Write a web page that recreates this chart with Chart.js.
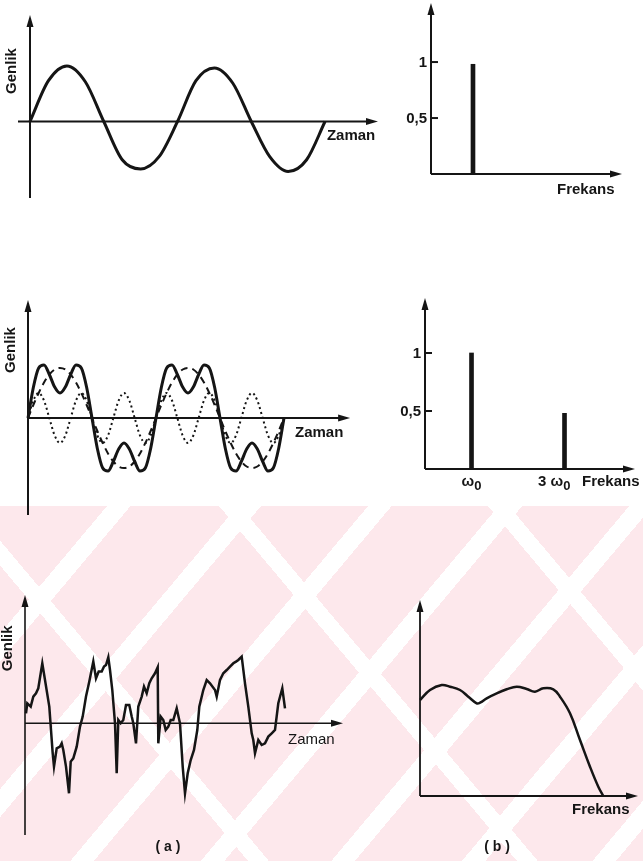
<!DOCTYPE html>
<html lang="tr">
<head>
<meta charset="utf-8">
<title>Genlik - Frekans</title>
<script src="https://cdn.jsdelivr.net/npm/chart.js@4.4.1/dist/chart.umd.min.js"></script>
<style>
  html, body { margin: 0; padding: 0; background: #fff; }
  #page { position: relative; width: 643px; height: 861px; overflow: hidden; background: #fff; }
  #mark {
    position: absolute; left: 0; top: 506px; width: 643px; height: 355px;
    background-color: #fde8ec;
    background-image:
      repeating-linear-gradient(130deg, rgba(255,255,255,0) 0 82px, #fff 82px 100px),
      repeating-linear-gradient(50deg, rgba(255,255,255,0) 0 190px, #fff 190px 206px);
  }
  canvas { position: absolute; }
</style>
</head>
<body>
<div id="page">
  <div id="mark"></div>
  <canvas id="c1" width="380" height="210" style="left:0;top:0"></canvas>
  <canvas id="c2" width="263" height="210" style="left:380px;top:0"></canvas>
  <canvas id="c3" width="380" height="240" style="left:0;top:280px"></canvas>
  <canvas id="c4" width="263" height="225" style="left:380px;top:280px"></canvas>
  <canvas id="c5" width="380" height="281" style="left:0;top:580px"></canvas>
  <canvas id="c6" width="263" height="281" style="left:380px;top:580px"></canvas>
</div>
<script>
// --- data ---
// (1) pure tone, time in 1/8 periods
const sineT = [0, 1, 2, 3, 4, 5, 6, 7, 8, 9, 10, 11, 12, 13, 14, 15, 16];
const sineV = [0, 0.8, 1.09, 0.78, 0, -0.75, -0.93, -0.69, 0, 0.8, 1.05, 0.75, 0, -0.69, -0.98, -0.75, 0];
const pureFreq = [1];
const pureAmp = [0.98];

// (2) fundamental + third harmonic, time in 1/24 periods
const mixT = [0, 1, 2, 3, 4, 5, 6, 7, 8, 9, 10, 11, 12, 13, 14, 15, 16, 17, 18, 19, 20, 21, 22, 23, 24,
  25, 26, 27, 28, 29, 30, 31, 32, 33, 34, 35, 36, 37, 38, 39, 40, 41, 42, 43, 44, 45, 46, 47, 48];
const mixFund = [0, 0.26, 0.5, 0.71, 0.87, 0.97, 1, 0.97, 0.87, 0.71, 0.5, 0.26, 0, -0.26, -0.5, -0.71, -0.87, -0.97, -1, -0.97, -0.87, -0.71, -0.5, -0.26, 0,
  0.26, 0.5, 0.71, 0.87, 0.97, 1, 0.97, 0.87, 0.71, 0.5, 0.26, 0, -0.26, -0.5, -0.71, -0.87, -0.97, -1, -0.97, -0.87, -0.71, -0.5, -0.26, 0];
const mixThird = [0, 0.35, 0.5, 0.35, 0, -0.35, -0.5, -0.35, 0, 0.35, 0.5, 0.35, 0, -0.35, -0.5, -0.35, 0, 0.35, 0.5, 0.35, 0, -0.35, -0.5, -0.35, 0,
  0.35, 0.5, 0.35, 0, -0.35, -0.5, -0.35, 0, 0.35, 0.5, 0.35, 0, -0.35, -0.5, -0.35, 0, 0.35, 0.5, 0.35, 0, -0.35, -0.5, -0.35, 0];
const mixSum = [0, 0.61, 1, 1.06, 0.87, 0.62, 0.5, 0.62, 0.87, 1.06, 1, 0.61, 0, -0.61, -1, -1.06, -0.87, -0.62, -0.5, -0.62, -0.87, -1.06, -1, -0.61, 0,
  0.61, 1, 1.06, 0.87, 0.62, 0.5, 0.62, 0.87, 1.06, 1, 0.61, 0, -0.61, -1, -1.06, -0.87, -0.62, -0.5, -0.62, -0.87, -1.06, -1, -0.61, 0];
const harmFreq = [1, 3];
const harmAmp = [1, 0.48];
const harmLabels = ['ω', '3 ω'];

// (3) random signal and its spectrum
const noiseT = [1, 2.3, 5.7, 8.3, 11, 13.3, 17.3, 20, 24.3, 27.7, 29, 31.7, 35, 36.7, 38.3, 41, 44, 45.7, 48.3, 51.7,
  55, 57.7, 61, 64.3, 68.3, 71, 73.7, 76.7, 79, 81, 83.3, 85, 87.3, 90, 91.7, 93.3, 95.7, 98.3, 101, 104.3,
  106.7, 108.3, 111, 113.3, 116.7, 119, 121.7, 124.3, 126.7, 130, 132.7, 133.3, 135.7, 138.3, 140.7, 143.3, 145.7, 148.3, 151.7, 155,
  157.7, 160, 162.7, 165.7, 169, 172.3, 174.3, 178.3, 181.7, 185, 190, 191.7, 195, 198.3, 201.7, 205, 208.3, 211, 213.3, 216.7,
  220, 223.3, 226.7, 228.3, 230, 233.3, 236.7, 240, 243.3, 246.7, 250, 253.3, 257.3, 260];
const noiseA = [10, 20, 16.7, 26.7, 30, 35, 60, 43.3, 16.7, -30, -43.3, -25, -23.3, -20, -26.7, -43.3, -70, -38.3, -35, -23.3,
  -3.3, 6.7, 26.7, 41.7, 61.7, 45, 51.7, 51.7, 56.7, 58.3, 66, 53.3, 33.3, 0, -50, 3.3, 0, 3.3, 18.3, 18.3,
  6.7, 0, -20, 16.7, 26.7, 36.7, 30, 40, 45, 50, 56, -20, 6.7, 3.3, -6.7, -3.3, 3.3, 3.3, 15, 0,
  -43.3, -70, -50, -36.7, -26.7, -6.7, 16.7, 33.3, 43.3, 40, 33.3, 26.7, 43.3, 50, 53.3, 56.7, 60, 61.7, 63.3, 66.7,
  40, 16.7, -10, -16.7, -30, -16.7, -21.7, -20, -13.3, -10, -6.7, 20, 35, 15];
const specF = [0, 10, 21.7, 30, 40, 48.3, 56.7, 60, 66.7, 76.7, 86.7, 96.7, 106.7, 115, 123.3, 133.3, 140, 150, 160, 170, 178.3, 183.3];
const specM = [96, 106, 111, 109.3, 106, 99.3, 92.7, 93.3, 97.7, 102.7, 106.7, 109.3, 107, 104.3, 107.7, 106.7, 99.3, 82.7, 56, 29.3, 9.3, 0];

const yTicks = [1, 0.5];
const yTickLabels = ['1', '0,5'];

const INK = '#151515';
const FONT = "'Liberation Sans', Arial, sans-serif";

function pts(xs, ys) {
  return xs.map((x, i) => ({ x: x, y: ys[i] }));
}

// axes with arrow heads, tick marks and the hand-set captions
const sketch = {
  id: 'sketch',
  beforeDatasetsDraw(chart, args, o) {
    const ctx = chart.ctx, sx = chart.scales.x, sy = chart.scales.y;
    const ox = sx.getPixelForValue(0), oy = sy.getPixelForValue(0);
    ctx.save();
    ctx.strokeStyle = INK;
    ctx.fillStyle = INK;
    ctx.lineWidth = o.axisWidth || 2;
    if (o.xAxis) {
      const a = sx.getPixelForValue(o.xAxis[0]), b = sx.getPixelForValue(o.xAxis[1]);
      ctx.beginPath(); ctx.moveTo(a, oy); ctx.lineTo(b - 8, oy); ctx.stroke();
      ctx.beginPath(); ctx.moveTo(b, oy); ctx.lineTo(b - 12, oy - 3.5); ctx.lineTo(b - 12, oy + 3.5); ctx.closePath(); ctx.fill();
    }
    if (o.yAxis) {
      const a = sy.getPixelForValue(o.yAxis[0]), b = sy.getPixelForValue(o.yAxis[1]);
      ctx.beginPath(); ctx.moveTo(ox, a); ctx.lineTo(ox, b + 8); ctx.stroke();
      ctx.beginPath(); ctx.moveTo(ox, b); ctx.lineTo(ox - 3.5, b + 12); ctx.lineTo(ox + 3.5, b + 12); ctx.closePath(); ctx.fill();
    }
    if (o.ticks) {
      ctx.font = 'bold 15px ' + FONT;
      ctx.textAlign = 'right';
      ctx.textBaseline = 'middle';
      o.ticks.forEach((v, i) => {
        const py = sy.getPixelForValue(v);
        ctx.beginPath(); ctx.moveTo(ox - 1, py); ctx.lineTo(ox + 7, py); ctx.stroke();
        ctx.fillText(o.tickLabels[i], ox - 4, py + 1);
      });
    }
    ctx.restore();
  },
  afterDatasetsDraw(chart, args, o) {
    const ctx = chart.ctx, sx = chart.scales.x, sy = chart.scales.y;
    ctx.save();
    ctx.fillStyle = INK;
    ctx.textBaseline = 'middle';
    (o.labels || []).forEach(l => {
      const px = sx.getPixelForValue(l.x), py = sy.getPixelForValue(l.y);
      const size = l.size || 15;
      ctx.font = (l.weight || 'bold') + ' ' + size + 'px ' + FONT;
      if (l.rotate) {
        ctx.save();
        ctx.translate(px, py);
        ctx.rotate(-Math.PI / 2);
        ctx.textAlign = 'center';
        ctx.fillText(l.text, 0, 0);
        ctx.restore();
        return;
      }
      const w = ctx.measureText(l.text).width;
      let subW = 0;
      if (l.sub) {
        ctx.font = (l.weight || 'bold') + ' ' + (size - 2) + 'px ' + FONT;
        subW = ctx.measureText(l.sub).width;
        ctx.font = (l.weight || 'bold') + ' ' + size + 'px ' + FONT;
      }
      let left = px;
      if (l.align === 'center') left = px - (w + subW) / 2;
      ctx.textAlign = 'left';
      ctx.fillText(l.text, left, py);
      if (l.sub) {
        ctx.font = (l.weight || 'bold') + ' ' + (size - 2) + 'px ' + FONT;
        ctx.fillText(l.sub, left + w, py + 4);
      }
    });
    ctx.restore();
  }
};

function panel(id, type, datasets, box, deco) {
  return new Chart(document.getElementById(id), {
    type: type,
    data: { datasets: datasets },
    options: {
      responsive: false,
      animation: false,
      events: [],
      layout: { padding: 0 },
      scales: {
        x: { type: 'linear', display: false, offset: false, min: box[0], max: box[1] },
        y: { type: 'linear', display: false, min: box[2], max: box[3] }
      },
      elements: { point: { radius: 0 } },
      plugins: { legend: { display: false }, tooltip: { enabled: false }, sketch: deco }
    },
    plugins: [sketch]
  });
}

function curve(xs, ys, extra) {
  return Object.assign({
    data: pts(xs, ys), borderColor: INK, borderWidth: 3, fill: false,
    pointRadius: 0, cubicInterpolationMode: 'monotone'
  }, extra || {});
}

function sticks(xs, ys) {
  return { data: pts(xs, ys), backgroundColor: INK, barThickness: 4, borderWidth: 0 };
}

// top row: one sine and its single spectral line
panel('c1', 'line', [curve(sineT, sineV)], [-1.627, 18.98, -1.735, 2.382], {
  xAxis: [-0.651, 18.87], yAxis: [-1.5, 2.09],
  labels: [
    { text: 'Genlik', x: -0.976, y: 0.99, rotate: true },
    { text: 'Zaman', x: 16.1, y: -0.284 }
  ]
});
panel('c2', 'bar', [sticks(pureFreq, pureAmp)], [-1.214, 5.048, -0.321, 1.554], {
  xAxis: [0, 4.548], yAxis: [0, 1.527], ticks: yTicks, tickLabels: yTickLabels,
  labels: [{ text: 'Frekans', x: 3.0, y: -0.143 }]
});

// middle row: fundamental, third harmonic and their sum
panel('c3', 'line', [
  curve(mixT, mixSum, { borderWidth: 3 }),
  curve(mixT, mixFund, { borderWidth: 2, borderDash: [7, 5] }),
  curve(mixT, mixThird, { borderWidth: 2, borderDash: [2, 3] })
], [-5.25, 66.0, -2.04, 2.76], {
  xAxis: [0, 60.4], yAxis: [-1.94, 2.36],
  labels: [
    { text: 'Genlik', x: -3.19, y: 1.36, rotate: true },
    { text: 'Zaman', x: 50.06, y: -0.3 }
  ]
});
panel('c4', 'bar', [sticks(harmFreq, harmAmp)], [-0.968, 4.688, -0.31, 1.629], {
  xAxis: [0, 4.516], yAxis: [0, 1.474], ticks: yTicks, tickLabels: yTickLabels,
  labels: [
    { text: harmLabels[0], sub: '0', x: harmFreq[0], y: -0.112, align: 'center' },
    { text: harmLabels[1], sub: '0', x: 2.43, y: -0.112 },
    { text: 'Frekans', x: 3.376, y: -0.112 }
  ]
});

// bottom row: random signal and continuous spectrum
panel('c5', 'line', [curve(noiseT, noiseA, { borderWidth: 2.5, cubicInterpolationMode: 'default', tension: 0 })],
  [-25, 355, -137.7, 143.3], {
  axisWidth: 1.6, xAxis: [0, 318], yAxis: [-111.7, 128.3],
  labels: [
    { text: 'Genlik', x: -17, y: 75, rotate: true },
    { text: 'Zaman', x: 263, y: -16.7, weight: 'normal' },
    { text: '( a )', x: 143, y: -123.7, align: 'center', size: 14 }
  ]
});
panel('c6', 'line', [curve(specF, specM, { borderWidth: 2.5, cubicInterpolationMode: 'default', tension: 0.4 })],
  [-40, 223, -65, 216], {
  axisWidth: 1.8, xAxis: [0, 218], yAxis: [0, 196],
  labels: [
    { text: 'Frekans', x: 152, y: -14 },
    { text: '( b )', x: 77, y: -51, align: 'center', size: 14 }
  ]
});
</script>
</body>
</html>
